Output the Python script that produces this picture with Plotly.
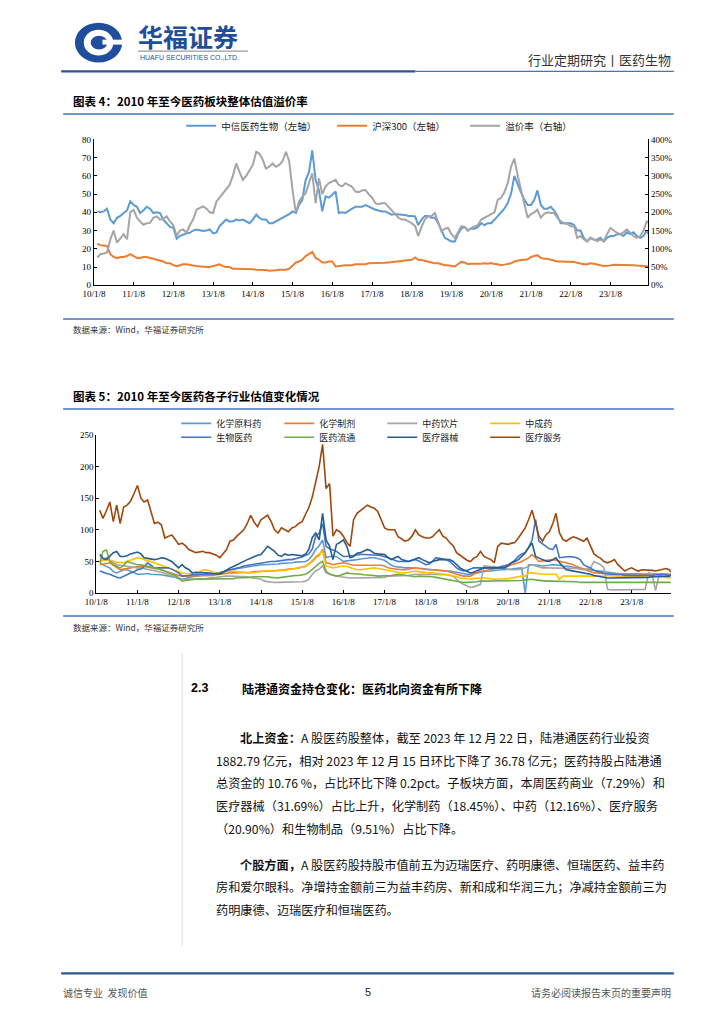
import pandas as pd
import plotly.graph_objects as go

W, H = 724, 1024

# ---------------- data ----------------
DATES = [d.strftime("%Y-%m-%d") for d in pd.date_range("2010-01-08", periods=167, freq="MS") + pd.Timedelta(days=7)] + ["2023-12-22"]

TICK_DATES = ["2010-01-08", "2011-01-08", "2012-01-08", "2013-01-08", "2014-01-08", "2015-01-08", "2016-01-08",
              "2017-01-08", "2018-01-08", "2019-01-08", "2020-01-08", "2021-01-08", "2022-01-08", "2023-01-08"]
TICK_LABELS = ["10/1/8", "11/1/8", "12/1/8", "13/1/8", "14/1/8", "15/1/8", "16/1/8",
               "17/1/8", "18/1/8", "19/1/8", "20/1/8", "21/1/8", "22/1/8", "23/1/8"]

# Chart 4
PHARMA_PE = [
    40.5, 40, 40.5, 42, 36, 34, 37, 38, 39.6, 41, 46, 44,
    43, 39.6, 41, 43, 42, 39.6, 40, 39.6, 36, 34, 32, 31.5,
    25.5, 27, 28, 28.5, 28.8, 30, 30.6, 30, 29.7, 30, 30.6, 28.4,
    29, 32.4, 34, 36, 35, 35, 36, 35.5, 36, 35, 34, 36,
    38.7, 37, 36, 36, 34, 34, 35, 36, 37, 37.8, 39, 40.5,
    39.6, 44, 47, 57.7, 62, 74, 57.7, 52, 40.5, 48.7, 48, 49.6,
    51.4, 39.6, 40, 39.6, 41, 42, 43, 43, 43, 44, 43, 42,
    41.4, 41, 40.5, 40.5, 39.5, 38.7, 39, 39, 38.7, 38.5, 38, 38,
    37.8, 33, 36, 38, 38, 37, 37, 34, 30, 26, 25, 24,
    24, 28, 31, 32, 30, 31, 31, 32, 34, 33, 34, 34,
    36, 38, 39.6, 42, 45, 50, 60, 55, 51, 47, 44, 44,
    47, 52, 44, 42, 42, 43, 41, 38, 34, 34, 34, 34,
    33, 30, 30, 26, 24, 26, 25, 25, 26, 24, 26, 27,
    27, 28, 28, 27, 29, 28, 29, 27, 26, 27, 30, 28,
]
HS300_PE = [
    22.8, 22, 21.8, 21.5, 17, 15.5, 14.8, 15.5, 15.5, 16, 17, 16,
    15, 15, 15.5, 15.5, 15, 14.5, 14, 13.5, 13, 12, 12, 11,
    10.5, 11, 11.5, 11.5, 11, 10.8, 10.5, 10.2, 10, 10, 10, 10.5,
    11, 11.5, 10.5, 10, 10, 9, 9, 9, 9, 9, 9, 8.8,
    8.5, 8.5, 8.3, 8.3, 8, 8, 8.2, 8.5, 8.5, 8.5, 9, 11,
    12.5, 13, 14, 16, 17, 18.3, 15, 14, 12.5, 12.5, 13, 13,
    10.3, 10.5, 11, 11, 11, 11, 11.5, 11.5, 11.5, 11.5, 12, 12,
    12, 12, 12.3, 12.3, 12.5, 12.7, 12.8, 13, 13, 13.3, 13.5, 14,
    15.2, 14, 13.8, 13.5, 13, 12.5, 12, 12, 11.5, 11, 11, 10.5,
    10.3, 11.5, 12.8, 12.5, 11.5, 11.8, 11.8, 11.5, 11.8, 12, 11.8, 12.2,
    11.6, 11.5, 11, 11.3, 11.5, 12, 13, 13.5, 13.8, 14, 14.2, 15.5,
    16, 16.5, 15, 14.5, 14.5, 14, 13.5, 13, 13, 13, 13, 12.8,
    12.8, 12.3, 11.8, 11.5, 11.5, 12, 11.8, 11.5, 11, 10.5, 10.5, 10.8,
    11.2, 11.2, 11.4, 11.4, 11.2, 11, 11, 10.8, 10.8, 10.5, 10.4, 10.3,
]
PREMIUM_PCT = [
    76, 85, 87, 90, 126, 150, 117, 130, 140, 126, 200, 207,
    185, 175, 166, 170, 171, 185, 189, 180, 182, 189, 175, 165,
    135, 150, 153, 144, 165, 180, 207, 212, 216, 210, 200, 198,
    230, 240, 252, 262, 275, 300, 334, 310, 289, 300, 316, 330,
    366, 361, 345, 320, 325, 334, 325, 330, 340, 366, 340, 260,
    198, 230, 243, 252, 280, 307, 225, 293, 250, 271, 280, 285,
    289, 275, 271, 280, 275, 270, 257, 255, 260, 261, 250, 240,
    225, 222, 225, 225, 215, 205, 195, 185, 180, 180, 175, 170,
    162, 135, 160, 180, 189, 190, 198, 175, 148, 155, 157, 140,
    130, 145, 162, 160, 150, 157, 160, 165, 180, 185, 190, 194,
    200, 234, 240, 255, 280, 325, 347, 300, 261, 220, 185, 195,
    200, 207, 185, 195, 200, 198, 198, 185, 175, 170, 168, 162,
    162, 130, 135, 126, 120, 130, 126, 121, 125, 121, 140, 157,
    150, 144, 140, 145, 153, 145, 135, 130, 135, 150, 175, 171,
]

# Chart 5
CHEM_API = [
    48, 45, 42, 40, 34, 32, 35, 37, 37, 35, 33, 30,
    30, 31, 31, 30, 30, 30, 29, 28, 27, 27, 25, 23,
    22, 23, 25, 26, 27, 28, 28, 29, 30, 30, 31, 32,
    34, 36, 37, 38, 38, 39, 40, 41, 42, 43, 44, 45,
    45, 45, 45, 45, 46, 47, 47, 48, 48, 49, 49, 50,
    50, 53, 60, 69, 75, 84, 56, 58, 58, 58, 54, 50,
    51, 52, 53, 53, 54, 55, 55, 56, 56, 55, 54, 52,
    48, 44, 42, 41, 40, 40, 40, 40, 40, 40, 39, 38,
    37, 37, 37, 36, 36, 35, 35, 34, 32, 31, 30, 30,
    30, 31, 32, 33, 35, 35, 35, 36, 36, 37, 37, 37,
    38, 39, 40, 40, 0, 45, 45, 45, 44, 43, 43, 44,
    45, 45, 44, 43, 43, 42, 41, 40, 39, 38, 37, 37,
    36, 35, 35, 34, 33, 32, 31, 30, 30, 30, 30, 30,
    30, 31, 30, 29, 30, 31, 30, 29, 30, 30, 31, 30,
]
CHEM_PREP = [
    45, 46, 47, 48, 44, 40, 37, 38, 39, 40, 41, 42,
    43, 42, 41, 40, 40, 39, 37, 35, 33, 32, 30, 28,
    27, 27, 27, 27, 27, 27, 27, 27, 27, 28, 29, 30,
    31, 32, 32, 32, 32, 32, 32, 33, 33, 34, 34, 35,
    35, 35, 35, 35, 36, 36, 37, 38, 38, 39, 40, 41,
    43, 46, 50, 56, 60, 69, 48, 47, 45, 46, 47, 48,
    47, 45, 44, 44, 44, 45, 45, 45, 45, 44, 44, 43,
    40, 39, 38, 38, 37, 37, 38, 39, 40, 39, 38, 37,
    37, 37, 36, 36, 35, 35, 34, 32, 30, 28, 27, 27,
    27, 30, 33, 35, 35, 36, 37, 38, 40, 41, 42, 43,
    45, 46, 48, 50, 53, 56, 61, 55, 50, 51, 52, 53,
    53, 52, 50, 49, 48, 47, 45, 42, 40, 37, 35, 33,
    32, 32, 31, 31, 31, 31, 31, 31, 31, 31, 31, 31,
    31, 31, 31, 30, 30, 30, 30, 30, 30, 30, 30, 30,
]
TCM_PIECES = [
    50, 53, 56, 52, 48, 45, 44, 43, 42, 41, 40, 40,
    40, 39, 38, 37, 36, 35, 33, 31, 29, 27, 26, 24,
    22, 22, 22, 22, 22, 23, 23, 23, 24, 24, 25, 26,
    27, 27, 27, 27, 27, 27, 27, 26, 25, 24, 23, 22,
    19, 18, 18, 17, 17, 17, 17, 17, 17, 17, 18, 18,
    19, 22, 30, 35, 38, 43, 32, 30, 28, 27, 26, 25,
    24, 24, 24, 24, 24, 24, 24, 24, 24, 24, 24, 25,
    27, 27, 27, 27, 27, 27, 28, 29, 30, 30, 30, 30,
    30, 30, 30, 30, 30, 29, 28, 27, 22, 17, 14, 11,
    9, 10, 12, 14, 43, 42, 42, 42, 41, 40, 38, 37,
    37, 37, 37, 38, 40, 42, 45, 43, 41, 40, 40, 40,
    40, 40, 40, 40, 40, 40, 40, 39, 38, 37, 38, 40,
    50, 47, 45, 40, 6, 5, 5, 5, 5, 5, 5, 5,
    6, 6, 6, 6, 32, 30, 4, 28, 30, 30, 31, 30,
]
TCM_PATENT = [
    50, 52, 53, 52, 50, 49, 48, 48, 50, 52, 54, 56,
    55, 53, 51, 50, 48, 46, 43, 41, 39, 37, 36, 34,
    32, 31, 31, 30, 30, 33, 36, 37, 35, 33, 32, 32,
    33, 34, 35, 35, 34, 33, 33, 32, 32, 33, 34, 35,
    35, 35, 35, 35, 35, 35, 36, 37, 38, 39, 40, 40,
    42, 46, 52, 58, 62, 66, 43, 42, 40, 41, 42, 43,
    42, 40, 38, 37, 37, 38, 39, 40, 40, 39, 38, 37,
    35, 34, 33, 33, 32, 32, 33, 34, 35, 34, 33, 32,
    32, 32, 31, 31, 30, 30, 29, 28, 26, 24, 23, 22,
    22, 23, 24, 24, 24, 23, 22, 22, 22, 22, 23, 23,
    24, 25, 26, 27, 27, 32, 32, 31, 30, 30, 30, 30,
    30, 30, 22, 27, 27, 27, 27, 27, 27, 27, 27, 27,
    27, 26, 26, 27, 28, 28, 27, 27, 26, 26, 27, 27,
    27, 27, 27, 27, 27, 27, 26, 26, 26, 25, 25, 24,
]
BIO_PHARMA = [
    35, 33, 31, 30, 27, 25, 24, 27, 30, 32, 34, 37,
    38, 42, 48, 44, 40, 40, 40, 40, 40, 38, 35, 32,
    27, 27, 28, 29, 30, 30, 30, 30, 30, 30, 31, 32,
    34, 36, 37, 38, 39, 41, 43, 44, 45, 46, 47, 48,
    48, 49, 50, 50, 51, 52, 52, 53, 53, 54, 55, 57,
    60, 62, 70, 90, 95, 110, 74, 70, 68, 66, 62, 58,
    58, 59, 60, 61, 61, 61, 61, 61, 61, 60, 59, 58,
    56, 54, 52, 50, 50, 50, 50, 52, 53, 51, 48, 45,
    46, 50, 56, 55, 53, 53, 50, 45, 40, 37, 35, 36,
    38, 40, 40, 40, 40, 40, 40, 40, 40, 42, 43, 45,
    48, 52, 58, 62, 64, 72, 84, 116, 82, 78, 74, 70,
    69, 77, 56, 57, 58, 58, 57, 56, 53, 45, 42, 40,
    36, 35, 33, 31, 30, 30, 30, 30, 29, 28, 28, 27,
    27, 27, 27, 27, 28, 28, 29, 30, 30, 29, 28, 27,
]
DISTRIBUTION = [
    48, 66, 68, 50, 45, 42, 40, 44, 50, 48, 46, 45,
    45, 44, 43, 42, 40, 39, 37, 35, 32, 30, 28, 24,
    19, 20, 21, 22, 22, 22, 22, 22, 22, 22, 22, 23,
    23, 23, 23, 23, 24, 24, 24, 25, 25, 26, 26, 27,
    27, 26, 25, 24, 24, 25, 26, 27, 27, 28, 28, 29,
    30, 33, 38, 43, 47, 50, 35, 30, 28, 27, 28, 30,
    32, 31, 31, 30, 30, 29, 29, 28, 28, 27, 27, 27,
    27, 28, 29, 30, 29, 28, 27, 26, 26, 27, 27, 27,
    27, 26, 25, 24, 23, 22, 21, 20, 19, 18, 17, 17,
    17, 18, 18, 19, 19, 19, 19, 19, 19, 19, 19, 19,
    19, 19, 19, 20, 21, 22, 22, 21, 20, 20, 19, 19,
    19, 19, 19, 19, 19, 19, 18, 18, 17, 17, 17, 17,
    17, 17, 18, 18, 18, 17, 17, 17, 17, 17, 17, 17,
    17, 17, 17, 17, 17, 17, 17, 17, 17, 17, 17, 17,
]
DEVICES = [
    61, 55, 53, 58, 64, 66, 58, 58, 59, 62, 63, 65,
    62, 56, 55, 54, 53, 54, 56, 55, 52, 50, 45, 40,
    45, 40, 37.5, 32, 33, 33, 33, 33, 32, 31, 30, 30,
    33, 37, 40, 42, 45, 48, 50, 53, 55, 58, 60, 61,
    67, 74, 70, 66, 60, 58, 62, 60, 61, 60, 60, 59,
    62, 69, 88, 95, 84, 126, 84, 74, 53, 77, 80, 84,
    74, 56, 58, 63, 64, 66, 69, 67, 63, 62, 61, 61,
    56, 53, 56, 58, 53, 52, 50, 52, 54, 56, 53, 50,
    48, 50, 52, 53, 53, 53, 53, 50, 45, 40, 37, 34,
    32, 33, 35, 38, 40, 40, 40, 40, 40, 40, 40, 43,
    48, 50, 53, 58, 64, 72, 79, 58, 55, 53, 51, 50,
    53, 56, 48, 42, 37, 36, 35, 35, 34, 33, 32, 30,
    28, 27, 26, 25, 24, 24, 24, 24, 24, 24, 24, 24,
    24, 24, 25, 25, 25, 26, 26, 27, 27, 27, 27, 29,
]
SERVICES = [
    131, 118, 130, 144, 113, 139, 110, 136, 139, 145, 157, 170,
    150, 144, 147, 129, 110, 112, 108, 87, 90, 92, 85, 77,
    79, 75, 69, 66, 64, 65, 66, 64, 64, 62, 60, 56,
    62, 69, 82, 84, 90, 95, 100, 110, 123, 112, 105, 116,
    120, 123, 113, 100, 95, 103, 100, 97, 103, 105, 110, 113,
    125, 135, 152, 178, 200, 235, 165, 173, 90, 100, 97, 90,
    80, 74, 116, 126, 130, 134, 139, 136, 134, 129, 115, 103,
    100, 100, 100, 89, 85, 82, 84, 90, 100, 92, 89, 87,
    87, 89, 95, 100, 90, 87, 80, 75, 64, 60, 56, 52,
    50, 55, 58, 66, 58, 56, 53, 48, 74, 79, 78, 77,
    79, 80, 87, 95, 103, 116, 131, 110, 90, 82, 92, 97,
    110, 126, 95, 85, 82, 86, 89, 87, 85, 82, 87, 74,
    62, 58, 55, 50, 48, 50, 53, 45, 40, 35, 38, 40,
    37, 35, 37, 37, 37, 36, 35, 36, 38, 39, 37, 33,
]

C4_NAMES = ["中信医药生物（左轴）", "沪深300（左轴）", "溢价率（右轴）"]
C5_NAMES = ["化学原料药", "化学制剂", "中药饮片", "中成药", "生物医药", "医药流通", "医疗器械", "医疗服务"]
C5_VALUES = [CHEM_API, CHEM_PREP, TCM_PIECES, TCM_PATENT, BIO_PHARMA, DISTRIBUTION, DEVICES, SERVICES]
C5_COLORS = ["#5B9BD5", "#ED7D31", "#A5A5A5", "#FFC000", "#4472C4", "#70AD47", "#255E91", "#9E480E"]

# ---------------- helpers ----------------
def X(p):
    return p / W

def Y(p):
    return 1 - p / H

CJK = "Noto Sans CJK SC"
SERIF = "Liberation Serif, Times New Roman, serif"

fig = go.Figure()

# chart 4 traces
fig.add_trace(go.Scatter(x=DATES, y=PHARMA_PE, name=C4_NAMES[0], mode="lines", legendwidth=106,
                         line=dict(color="#5B9BD5", width=2), xaxis="x", yaxis="y", legend="legend"))
fig.add_trace(go.Scatter(x=DATES, y=HS300_PE, name=C4_NAMES[1], mode="lines", legendwidth=88,
                         line=dict(color="#ED7D31", width=2), xaxis="x", yaxis="y", legend="legend"))
fig.add_trace(go.Scatter(x=DATES, y=PREMIUM_PCT, name=C4_NAMES[2], mode="lines", legendwidth=84,
                         line=dict(color="#A5A5A5", width=2), xaxis="x", yaxis="y2", legend="legend"))

# chart 5 traces
for i, (nm, vals, col) in enumerate(zip(C5_NAMES, C5_VALUES, C5_COLORS)):
    fig.add_trace(go.Scatter(x=DATES, y=vals, name=nm, mode="lines",
                             line=dict(color=col, width=1.6), xaxis="x2", yaxis="y3",
                             legend="legend2" if i < 4 else "legend3"))

axis_common = dict(showline=True, linecolor="#000", linewidth=1, ticks="inside", ticklen=3,
                   tickcolor="#000", showgrid=False, zeroline=False,
                   tickfont=dict(family=SERIF, size=9, color="#000"))

legend_common = dict(orientation="h", xanchor="left", yanchor="middle", bgcolor="rgba(0,0,0,0)",
                     itemwidth=30, entrywidthmode="pixels", traceorder="normal")
LEG_FONT = dict(family=CJK, size=9.5, color="#222")
LEG_FONT_SMALL = dict(family=CJK, size=9, color="#222")

fig.update_layout(
    width=W, height=H, autosize=False,
    margin=dict(l=0, r=0, t=0, b=0),
    paper_bgcolor="#fff", plot_bgcolor="rgba(0,0,0,0)",
    showlegend=True,
    xaxis=dict(domain=[X(83.3), X(647)], anchor="y", type="date",
               range=["2010-01-08", "2023-12-22"], tickvals=TICK_DATES, ticktext=TICK_LABELS,
               **axis_common),
    yaxis=dict(domain=[Y(283), Y(135.7)], anchor="x", range=[0, 80], dtick=10, **axis_common),
    yaxis2=dict(overlaying="y", side="right", anchor="x", range=[0, 400], dtick=50, ticksuffix="%",
                **axis_common),
    xaxis2=dict(domain=[X(85.7), X(670)], anchor="y3", type="date",
                range=["2010-01-08", "2023-12-22"], tickvals=TICK_DATES, ticktext=TICK_LABELS,
                **axis_common),
    yaxis3=dict(domain=[Y(594), Y(434)], anchor="x2", range=[0, 250], dtick=50, **axis_common),
    legend=dict(x=X(172), y=Y(122), entrywidth=84, font=LEG_FONT, **legend_common),
    legend2=dict(x=X(167), y=Y(422.5), entrywidth=58, font=LEG_FONT_SMALL, **legend_common),
    legend3=dict(x=X(167), y=Y(436.5), entrywidth=58, font=LEG_FONT_SMALL, **legend_common),
)

shapes = []
ann = []

def hline(y, x0, x1, color, width):
    shapes.append(dict(type="line", xref="paper", yref="paper", x0=X(x0), x1=X(x1), y0=Y(y), y1=Y(y),
                       line=dict(color=color, width=width)))

def text(x, y, s, size=12, color="#000", family=CJK, xanchor="left", yanchor="middle"):
    ann.append(dict(x=X(x), y=Y(y), xref="paper", yref="paper", text=s, showarrow=False,
                    xanchor=xanchor, yanchor=yanchor, font=dict(family=family, size=size, color=color)))

# header logo
shapes.append(dict(type="circle", xref="paper", yref="paper", x0=X(64), x1=X(112), y0=Y(58), y1=Y(18),
                   fillcolor="#1F4E9E", line=dict(width=0)))
shapes.append(dict(type="circle", xref="paper", yref="paper", x0=X(73), x1=X(103), y0=Y(51), y1=Y(25),
                   fillcolor="#fff", line=dict(width=0)))
shapes.append(dict(type="circle", xref="paper", yref="paper", x0=X(80), x1=X(97), y0=Y(45), y1=Y(31),
                   fillcolor="#1F4E9E", line=dict(width=0)))
shapes.append(dict(type="rect", xref="paper", yref="paper", x0=X(92), x1=X(112), y0=Y(40), y1=Y(35),
                   fillcolor="#fff", line=dict(width=0)))
text(126, 31, "<b>华福证券</b>", size=25, color="#1F4E9E")
hline(46.5, 128, 240, "#9a9a9a", 1.2)
text(128, 53, "HUAFU SECURITIES CO.,LTD.", size=7, color="#1F4E9E",
     family="Liberation Sans Narrow, Arial Narrow, Liberation Sans")
text(672, 55, "行业定期研究丨医药生物", size=13, color="#333", xanchor="right")
hline(67, 50, 410, "#2F5496", 2.2)
hline(67, 410, 673, "#4472C4", 1.2)

# chart 4 frame
text(60, 97, "<b>图表 4：2010 年至今医药板块整体估值溢价率</b>", size=11.5)
hline(110, 52, 673, "#4472C4", 1.5)
hline(317, 52, 673, "#4472C4", 1.5)
text(60, 327, "数据来源：Wind，华福证券研究所", size=8.5, color="#333")

# chart 5 frame
text(60, 395, "<b>图表 5：2010 年至今医药各子行业估值变化情况</b>", size=11.5)
hline(408, 52, 673, "#4472C4", 1.5)
hline(617, 52, 673, "#4472C4", 1.5)
text(60, 628, "数据来源：Wind，华福证券研究所", size=8.5, color="#333")

# section text
shapes.append(dict(type="line", xref="paper", yref="paper", x0=X(173), x1=X(173), y0=Y(655), y1=Y(950),
                   line=dict(color="#d9d9d9", width=1)))
text(180, 690, "<b>2.3</b>", size=12.5, family="Liberation Sans, Arial")
text(232, 690, "<b>陆港通资金持仓变化：医药北向资金有所下降</b>", size=12)

BODY = 12.2
lines_p1 = [
    (230, 740, "<b>北上资金：</b>A 股医药股整体，截至 2023 年 12 月 22 日，陆港通医药行业投资"),
    (205, 763, "1882.79 亿元，相对 2023 年 12 月 15 日环比下降了 36.78 亿元；医药持股占陆港通"),
    (205, 786, "总资金的 10.76 %，占比环比下降 0.2pct。子板块方面，本周医药商业（7.29%）和"),
    (205, 809, "医疗器械（31.69%）占比上升，化学制药（18.45%）、中药（12.16%）、医疗服务"),
    (205, 832, "（20.90%）和生物制品（9.51%）占比下降。"),
    (230, 868, "<b>个股方面，</b>A 股医药股持股市值前五为迈瑞医疗、药明康德、恒瑞医药、益丰药"),
    (205, 891, "房和爱尔眼科。净增持金额前三为益丰药房、新和成和华润三九；净减持金额前三为"),
    (205, 914, "药明康德、迈瑞医疗和恒瑞医药。"),
]
for x, y, s in lines_p1:
    text(x, y, s, size=BODY, color="#111")

# footer
hline(978, 50, 673, "#2F5496", 2.2)
text(50, 997, "诚信专业  发现价值", size=10, color="#555")
text(362, 997, "5", size=11, color="#222", family="Liberation Sans, Arial", xanchor="center")
text(672, 997, "请务必阅读报告末页的重要声明", size=10, color="#555", xanchor="right")

fig.update_layout(shapes=shapes, annotations=ann)
fig.write_html("out.html", config={"displayModeBar": False},
               post_script="document.body.style.margin='0px';document.documentElement.style.overflow='hidden';")
